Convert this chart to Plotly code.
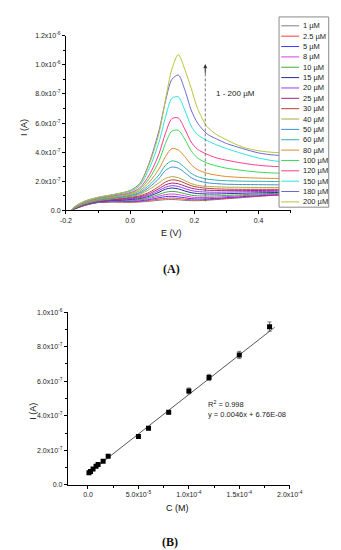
import plotly.graph_objects as go

# ---------------- DATA ----------------
# Panel A: potential grid (V) and current (x1e-6 A) for each concentration
E_V = [-0.185, -0.17, -0.14, -0.1, -0.05, 0.0, 0.03, 0.06, 0.09, 0.11, 0.13, 0.15,
       0.17, 0.19, 0.21, 0.24, 0.27, 0.3, 0.35, 0.4, 0.45, 0.5]

conc_labels = ["1 µM", "2.5 µM", "5 µM", "8 µM", "10 µM", "15 µM", "20 µM", "25 µM",
               "30 µM", "40 µM", "50 µM", "60 µM", "80 µM", "100 µM", "120 µM",
               "150 µM", "180 µM", "200 µM"]

i_1 = [0, 0.012, 0.035, 0.054, 0.057, 0.056, 0.058, 0.063, 0.07, 0.074, 0.075, 0.073, 0.069, 0.067, 0.067, 0.07, 0.075, 0.08, 0.088, 0.097, 0.105, 0.11]
i_2_5 = [0, 0.013, 0.036, 0.055, 0.06, 0.058, 0.062, 0.069, 0.078, 0.083, 0.085, 0.082, 0.077, 0.073, 0.072, 0.074, 0.078, 0.083, 0.091, 0.098, 0.104, 0.107]
i_5 = [0, 0.013, 0.037, 0.056, 0.062, 0.062, 0.066, 0.075, 0.087, 0.095, 0.097, 0.093, 0.087, 0.081, 0.079, 0.08, 0.083, 0.088, 0.095, 0.102, 0.107, 0.11]
i_8 = [0, 0.014, 0.038, 0.057, 0.064, 0.066, 0.071, 0.082, 0.098, 0.109, 0.113, 0.109, 0.1, 0.092, 0.089, 0.089, 0.091, 0.095, 0.101, 0.107, 0.112, 0.115]
i_10 = [0, 0.014, 0.039, 0.058, 0.066, 0.07, 0.076, 0.089, 0.11, 0.125, 0.131, 0.126, 0.115, 0.105, 0.1, 0.099, 0.1, 0.103, 0.108, 0.113, 0.117, 0.12]
i_15 = [0, 0.015, 0.04, 0.06, 0.069, 0.075, 0.082, 0.098, 0.125, 0.146, 0.154, 0.148, 0.134, 0.122, 0.116, 0.113, 0.113, 0.115, 0.118, 0.121, 0.123, 0.125]
i_20 = [0, 0.016, 0.041, 0.062, 0.072, 0.08, 0.088, 0.106, 0.137, 0.16, 0.17, 0.165, 0.15, 0.137, 0.13, 0.126, 0.125, 0.126, 0.128, 0.13, 0.131, 0.132]
i_25 = [0, 0.017, 0.042, 0.064, 0.075, 0.085, 0.094, 0.115, 0.15, 0.176, 0.188, 0.183, 0.168, 0.153, 0.145, 0.139, 0.137, 0.136, 0.136, 0.137, 0.138, 0.139]
i_30 = [0, 0.018, 0.043, 0.066, 0.078, 0.09, 0.1, 0.125, 0.165, 0.195, 0.21, 0.205, 0.188, 0.17, 0.16, 0.152, 0.148, 0.146, 0.145, 0.145, 0.145, 0.145]
i_40 = [0, 0.02, 0.046, 0.067, 0.082, 0.095, 0.11, 0.145, 0.19, 0.22, 0.232, 0.225, 0.205, 0.185, 0.172, 0.165, 0.162, 0.16, 0.159, 0.158, 0.158, 0.158]
i_50 = [0, 0.021, 0.048, 0.07, 0.085, 0.1, 0.118, 0.16, 0.22, 0.275, 0.298, 0.29, 0.26, 0.225, 0.205, 0.19, 0.184, 0.18, 0.178, 0.177, 0.176, 0.176]
i_60 = [0, 0.022, 0.05, 0.073, 0.089, 0.104, 0.125, 0.175, 0.245, 0.31, 0.34, 0.33, 0.295, 0.255, 0.232, 0.215, 0.208, 0.204, 0.201, 0.2, 0.199, 0.199]
i_80 = [0, 0.023, 0.052, 0.076, 0.093, 0.11, 0.135, 0.195, 0.285, 0.37, 0.425, 0.415, 0.37, 0.315, 0.28, 0.255, 0.242, 0.233, 0.226, 0.222, 0.22, 0.22]
i_100 = [0, 0.025, 0.055, 0.08, 0.098, 0.116, 0.145, 0.22, 0.34, 0.46, 0.545, 0.55, 0.49, 0.41, 0.36, 0.325, 0.305, 0.29, 0.275, 0.263, 0.257, 0.255]
i_120 = [0, 0.026, 0.058, 0.083, 0.102, 0.122, 0.155, 0.245, 0.39, 0.53, 0.63, 0.635, 0.56, 0.47, 0.42, 0.385, 0.36, 0.345, 0.325, 0.31, 0.302, 0.30]
i_150 = [0, 0.028, 0.062, 0.087, 0.107, 0.13, 0.17, 0.29, 0.47, 0.64, 0.77, 0.78, 0.69, 0.58, 0.52, 0.48, 0.45, 0.425, 0.39, 0.36, 0.34, 0.334]
i_180 = [0, 0.03, 0.065, 0.09, 0.11, 0.137, 0.185, 0.33, 0.55, 0.75, 0.9, 0.93, 0.83, 0.69, 0.6, 0.525, 0.49, 0.46, 0.425, 0.395, 0.38, 0.377]
i_200 = [0, 0.03, 0.065, 0.09, 0.11, 0.135, 0.18, 0.32, 0.53, 0.76, 0.97, 1.07, 0.97, 0.84, 0.70, 0.575, 0.52, 0.485, 0.435, 0.41, 0.398, 0.395]

curves_A = [i_1, i_2_5, i_5, i_8, i_10, i_15, i_20, i_25, i_30, i_40, i_50, i_60,
            i_80, i_100, i_120, i_150, i_180, i_200]

colors_A = ["#7f7f7f", "#ff3b3b", "#3b3bff", "#e23be2", "#3fae3f", "#2a2a9a", "#9a3bff",
            "#9a2a7f", "#c03a3a", "#b0a83a", "#3b8fd0", "#2fb0b0", "#e08a2a", "#3bd85a",
            "#ff3b8a", "#2fe0e0", "#6a6ad0", "#b8c23a"]

yA_tickvals = [0, 2e-7, 4e-7, 6e-7, 8e-7, 1e-6, 1.2e-6]
yA_ticktext = ["0.0", "2.0x10<sup>-7</sup>", "4.0x10<sup>-7</sup>", "6.0x10<sup>-7</sup>",
               "8.0x10<sup>-7</sup>", "1.0x10<sup>-6</sup>", "1.2x10<sup>-6</sup>"]
xA_tickvals = [-0.2, 0.0, 0.2, 0.4]
xA_ticktext = ["-0.2", "0.0", "0.2", "0.4"]

# Panel B: calibration
conc_M = [1e-6, 2.5e-6, 5e-6, 8e-6, 1e-5, 1.5e-5, 2e-5, 5e-5, 6e-5, 8e-5, 1e-4, 1.2e-4, 1.5e-4, 1.8e-4]
peak_I = [0.070e-6, 0.078e-6, 0.092e-6, 0.108e-6, 0.118e-6, 0.137e-6, 0.166e-6, 0.280e-6,
          0.328e-6, 0.420e-6, 0.544e-6, 0.622e-6, 0.752e-6, 0.916e-6]
peak_err = [0.004e-6, 0.004e-6, 0.004e-6, 0.004e-6, 0.005e-6, 0.005e-6, 0.006e-6, 0.008e-6,
            0.008e-6, 0.010e-6, 0.017e-6, 0.018e-6, 0.021e-6, 0.027e-6]
fit_x = [0.0, 1.85e-4]
fit_y = [0.066e-6, 0.912e-6]

yB_tickvals = [0, 2e-7, 4e-7, 6e-7, 8e-7, 1e-6]
yB_ticktext = ["0.0", "2.0x10<sup>-7</sup>", "4.0x10<sup>-7</sup>", "6.0x10<sup>-7</sup>",
               "8.0x10<sup>-7</sup>", "1.0x10<sup>-6</sup>"]
xB_tickvals = [0, 5e-5, 1e-4, 1.5e-4, 2e-4]
xB_ticktext = ["0.0", "5.0x10<sup>-5</sup>", "1.0x10<sup>-4</sup>", "1.5x10<sup>-4</sup>",
               "2.0x10<sup>-4</sup>"]

# ---------------- FIGURE ----------------
W, H = 341, 550
def px(x):
    return x / W
def py(y):
    return 1 - y / H

FONT = "Liberation Sans, Arial, sans-serif"
fig = go.Figure()

for lab, vals, col in zip(conc_labels, curves_A, colors_A):
    fig.add_trace(go.Scatter(x=E_V, y=[v * 1e-6 for v in vals], mode="lines",
                             line=dict(color=col, width=1, shape="spline", smoothing=0.8),
                             name=lab, xaxis="x", yaxis="y", showlegend=False))

fig.add_trace(go.Scatter(x=fit_x, y=fit_y, mode="lines", line=dict(color="#444444", width=0.9),
                         xaxis="x2", yaxis="y2", showlegend=False))
fig.add_trace(go.Scatter(x=conc_M, y=peak_I, mode="markers",
                         marker=dict(symbol="square", size=5, color="black"),
                         error_y=dict(type="data", array=peak_err, color="#555555",
                                      thickness=0.8, width=2),
                         xaxis="x2", yaxis="y2", showlegend=False))

axis_common = dict(showline=True, linecolor="black", linewidth=1, showgrid=False,
                   zeroline=False, ticks="outside", ticklen=3, tickcolor="black",
                   tickwidth=1, tickfont=dict(family=FONT, size=7, color="#222222"),
                   tickmode="array")

fig.update_layout(
    width=W, height=H, margin=dict(l=0, r=0, t=0, b=0),
    paper_bgcolor="white", plot_bgcolor="white", showlegend=False,
    xaxis=dict(axis_common, domain=[px(55), px(293)], range=[-0.2, 0.5], anchor="y",
               tickvals=xA_tickvals, ticktext=xA_ticktext,
               minor=dict(ticks="outside", ticklen=2, tick0=-0.1, dtick=0.2, tickcolor="black")),
    yaxis=dict(axis_common, domain=[py(201), py(24)], range=[0, 1.2e-6], anchor="x",
               tickvals=yA_tickvals, ticktext=yA_ticktext,
               minor=dict(ticks="outside", ticklen=2, tick0=1e-7, dtick=2e-7, tickcolor="black")),
    xaxis2=dict(axis_common, domain=[px(57), px(292)], range=[-2e-5, 2e-4], anchor="y2",
                tickvals=xB_tickvals, ticktext=xB_ticktext,
                minor=dict(ticks="outside", ticklen=2, tick0=2.5e-5, dtick=5e-5, tickcolor="black")),
    yaxis2=dict(axis_common, domain=[py(479), py(304)], range=[0, 1e-6], anchor="x2",
                tickvals=yB_tickvals, ticktext=yB_ticktext,
                minor=dict(ticks="outside", ticklen=2, tick0=1e-7, dtick=2e-7, tickcolor="black")),
)

shapes = []
annotations = []

# dashed arrow in panel A
shapes.append(dict(type="line", xref="x", yref="y", x0=0.234, x1=0.234, y0=0.062e-6, y1=0.97e-6,
                   line=dict(color="#555555", width=0.8, dash="3px,2px")))
annotations.append(dict(x=0.234, y=1.005e-6, xref="x", yref="y", ax=0.234, ay=0.93e-6,
                        axref="x", ayref="y", showarrow=True, arrowhead=2, arrowsize=0.9,
                        arrowwidth=0.9, arrowcolor="#333333", text=""))
annotations.append(dict(x=0.26, y=0.8e-6, xref="x", yref="y", xanchor="left", yanchor="middle",
                        text="1 - 200 µM", showarrow=False,
                        font=dict(family=FONT, size=8, color="#222222")))

# manual legend box for panel A
shapes.append(dict(type="rect", xref="paper", yref="paper", x0=px(280.7), x1=px(333.3),
                   y0=py(197.7), y1=py(5), line=dict(color="#8a8a8a", width=1),
                   fillcolor="white", layer="above"))
for i, (lab, col) in enumerate(zip(conc_labels, colors_A)):
    yy = 14 + i * 10.49
    shapes.append(dict(type="line", xref="paper", yref="paper", x0=px(283), x1=px(302),
                       y0=py(yy), y1=py(yy), line=dict(color=col, width=1), layer="above"))
    annotations.append(dict(x=px(303.5), y=py(yy), xref="paper", yref="paper",
                            xanchor="left", yanchor="middle", text=lab, showarrow=False,
                            font=dict(family=FONT, size=7.5, color="#222222")))

# axis titles and panel labels
def ptext(x, y, t, size, angle=0, family=FONT, bold=False):
    annotations.append(dict(x=px(x), y=py(y), xref="paper", yref="paper", xanchor="center",
                            yanchor="middle", text=("<b>%s</b>" % t if bold else t),
                            showarrow=False, textangle=angle,
                            font=dict(family=family, size=size, color="#111111")))

ptext(10, 117, "I (A)", 9, angle=-90)
ptext(167, 224, "E (V)", 9)
ptext(167, 260, "(A)", 12, family="Liberation Serif, Times New Roman, serif", bold=True)
ptext(20, 404, "I (A)", 9, angle=-90)
ptext(173, 502, "C (M)", 9)
ptext(165, 537, "(B)", 12, family="Liberation Serif, Times New Roman, serif", bold=True)

# regression text panel B
annotations.append(dict(x=px(203), y=py(397), xref="paper", yref="paper", xanchor="left",
                        yanchor="middle", text="R<sup>2</sup> = 0.998", showarrow=False,
                        font=dict(family=FONT, size=7.5, color="#222222")))
annotations.append(dict(x=px(203), y=py(407.5), xref="paper", yref="paper", xanchor="left",
                        yanchor="middle", text="y = 0.0046x + 6.76E-08", showarrow=False,
                        font=dict(family=FONT, size=7.5, color="#222222")))

fig.update_layout(shapes=shapes, annotations=annotations)
fig.write_html("out.html")
